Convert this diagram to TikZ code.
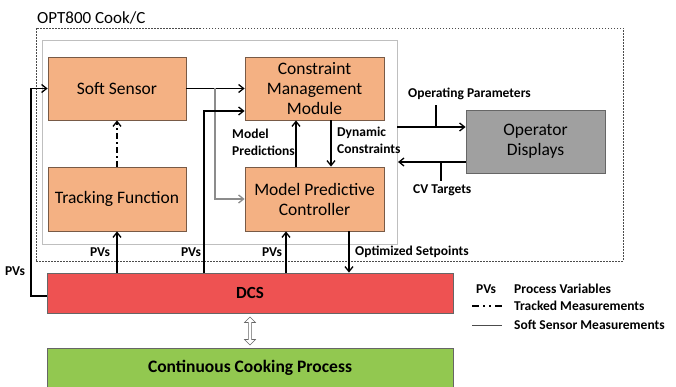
\documentclass[tikz,border=0pt]{standalone}
\usepackage{fontspec}
\setmainfont{Carlito}
\usetikzlibrary{arrows.meta,shapes.arrows}
\definecolor{boxorange}{RGB}{244,177,131}
\definecolor{boxborder}{RGB}{120,90,70}
\definecolor{dcsred}{RGB}{238,82,82}
\definecolor{procgreen}{RGB}{146,200,80}
\definecolor{opgray}{RGB}{160,160,160}
\tikzset{
  modbox/.style={draw=boxborder, line width=0.8pt, fill=boxorange, align=center,
    font=\fontsize{17.5}{20}\selectfont, inner sep=0pt},
  conn/.style={line width=1.5pt, -{Straight Barb[length=5pt,width=8pt,line width=1.3pt]}},
  plainconn/.style={line width=1.5pt},
  lbl/.style={font=\bfseries\fontsize{13.5}{17}\selectfont, inner sep=0pt, align=left},
  leg/.style={font=\bfseries\fontsize{13.5}{16}\selectfont, inner sep=0pt, anchor=west},
}
\begin{document}
\begin{tikzpicture}[x=1pt,y=-1pt]
\useasboundingbox[fill=white] (0,0) rectangle (676,387);
% frames
\node[draw=black!70, dashed, dash pattern=on 1.5pt off 1.5pt, line width=0.7pt, minimum width=587pt, minimum height=233pt, inner sep=0pt] (outer) at (329.5,144.5) {};
\node[anchor=south west, font=\fontsize{17}{20}\selectfont, inner sep=0pt] (title) at (37,24) {OPT800 Cook/C};
\node[draw=black!25, line width=0.8pt, minimum width=355pt, minimum height=204pt, inner sep=0pt] (inner) at (219.5,142) {};
% modules
\node[modbox, minimum width=138pt, minimum height=63pt] (soft) at (117,88.5) {Soft Sensor};
\node[modbox, minimum width=138pt, minimum height=64pt] (track) at (117,199) {Tracking Function};
\node[modbox, minimum width=139pt, minimum height=63pt] (cmm) at (314.5,88.5) {Constraint\\Management\\Module};
\node[modbox, minimum width=139pt, minimum height=64pt] (mpc) at (314.5,199) {Model Predictive\\Controller};
\node[draw=black!60, line width=0.8pt, fill=opgray, minimum width=139pt, minimum height=63pt, align=center, font=\fontsize{17.5}{20}\selectfont, inner sep=0pt] (opd) at (535.5,141.5) {Operator\\Displays};
\node[draw=black!60, line width=0.8pt, fill=dcsred, minimum width=406pt, minimum height=40pt, font=\bfseries\fontsize{17}{20}\selectfont, inner sep=0pt] (dcs) at (250,293) {DCS};
\node[draw=black!60, line width=0.8pt, fill=procgreen, minimum width=406pt, minimum height=46pt, inner sep=0pt] (ccp) at (250,371) {};
\node[font=\bfseries\fontsize{17.5}{20}\selectfont, inner sep=0pt] (ccptext) at (250,368) {Continuous Cooking Process};
% double arrow
\node[double arrow, draw=black!60, fill=white, line width=0.6pt, rotate=90, minimum height=28pt, minimum width=11pt, double arrow head extend=2pt, inner sep=0.5pt] (dbl) at (250,331) {};
% coordinates
\coordinate (br) at (215,88.5);
\coordinate (pvl) at (31,296);
\coordinate (pvm) at (204,273);
\coordinate (pvmt) at (204,111);
\coordinate (opout) at (397,127);
\coordinate (opin) at (398,162);
\coordinate (opt) at (436,127);
\coordinate (opttop) at (436,105);
\coordinate (cvt) at (441,162);
\coordinate (cvbot) at (441,181);
% connectors
\draw[conn] (soft.east) -- (cmm.west);
\draw[conn, draw=black!45] (br) |- (mpc.west);
\draw[conn] (pvm) -- (pvmt) -- (cmm.west |- pvmt);
\draw[conn] (dcs.west |- pvl) -| (31,88.5) -- (soft.west);
\draw[conn, dash pattern=on 6pt off 3pt on 2pt off 3pt] (track.north) -- (soft.south);
\draw[conn] (dcs.north -| track.south) -- (track.south);
\draw[conn] (dcs.north -| 286,0) -- (mpc.south -| 286,0);
\draw[conn] (mpc.south -| 349,0) -- (dcs.north -| 349,0);
\draw[conn] (mpc.north -| 296,0) -- (cmm.south -| 296,0);
\draw[conn] (cmm.south -| 331,0) -- (mpc.north -| 331,0);
\draw[conn] (opout) -- (opd.west |- opout);
\draw[conn] (opd.west |- opin) -- (opin);
\draw[plainconn, line width=1.2pt] (opt) -- (opttop);
\draw[plainconn, line width=1.2pt] (cvt) -- (cvbot);
% labels
\node[lbl, anchor=center] (l1) at (100,252) {PVs};
\node[lbl, anchor=center] (l2) at (191,252) {PVs};
\node[lbl, anchor=center] (l3) at (272,252) {PVs};
\node[lbl, anchor=center] (l4) at (15,271) {PVs};
\node[lbl, anchor=west] (l5) at (355,252) {Optimized Setpoints};
\node[lbl, anchor=west] (l6) at (232,142.5) {Model\\Predictions};
\node[lbl, anchor=west] (l7) at (337,140.5) {Dynamic\\Constraints};
\node[lbl, anchor=west] (l8) at (408,94) {Operating Parameters};
\node[lbl, anchor=west] (l9) at (413,190) {CV Targets};
% legend
\node[leg] (g1) at (476,289) {PVs};
\node[leg] (g2) at (514,289) {Process Variables};
\node[leg] (g3) at (514,306) {Tracked Measurements};
\node[leg] (g4) at (514,325) {Soft Sensor Measurements};
\coordinate (ga) at (472,306);
\coordinate (gb) at (502,306);
\coordinate (gc) at (472,325);
\coordinate (gd) at (502,325);
\draw[line width=1.5pt, dash pattern=on 7pt off 4pt on 2pt off 4pt on 2pt off 4pt] (ga) -- (gb);
\draw[line width=1pt, black!70] (gc) -- (gd);
\end{tikzpicture}
\end{document}
